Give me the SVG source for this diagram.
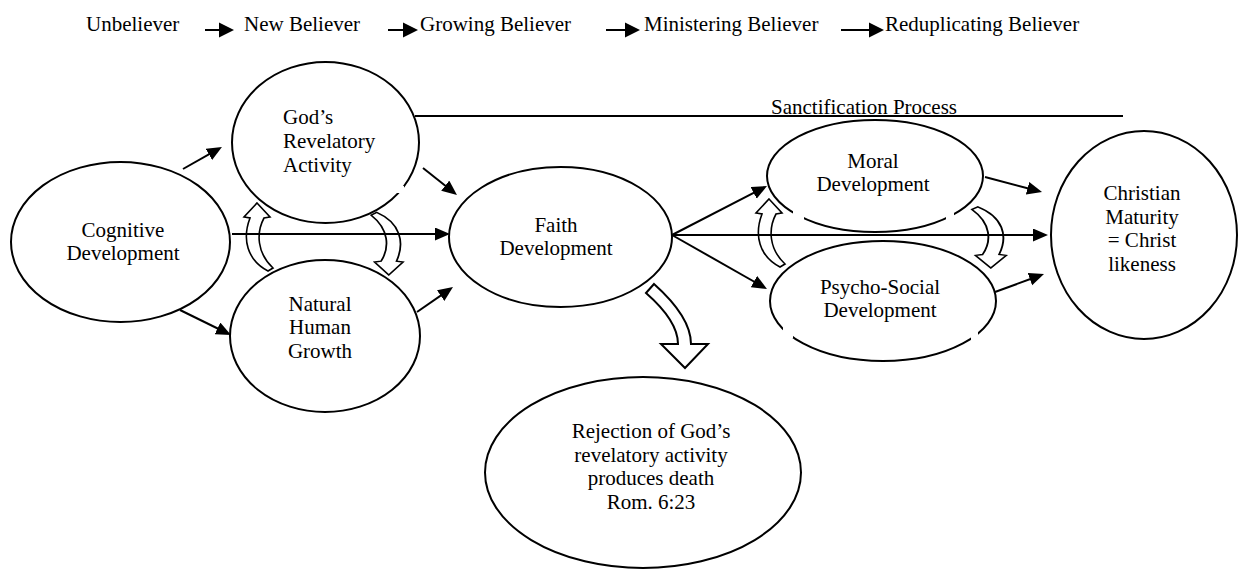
<svg xmlns="http://www.w3.org/2000/svg" width="1238" height="569" viewBox="0 0 1238 569">
<style>
text{font-family:"Liberation Serif","Times New Roman",serif;font-size:21px;fill:#000}
.m{text-anchor:middle}
.node ellipse{fill:#fff;stroke:#000;stroke-width:2}
.conn line{stroke:#000;stroke-width:2;marker-end:url(#ah)}
.hdr line{stroke:#000;stroke-width:2}
.hdr polygon{fill:#000}
.curl{fill:#fff;stroke:#000;stroke-width:1.6;stroke-linejoin:miter}
.block{fill:#fff;stroke:#000;stroke-width:2;stroke-linejoin:miter}
.sline{stroke:#000;stroke-width:2}
</style>
<defs>
<marker id="ah" markerUnits="userSpaceOnUse" markerWidth="16" markerHeight="14" refX="7" refY="6.5" orient="auto">
<path d="M0,0 L15,6.5 L0,13 Z" fill="#000"/>
</marker>
<path id="curlA" d="M12,0 L25,14 L19,15 C11,30 12,50 28,65 L23,68 C2,57 -3,36 5,15 L-1,14 Z"/>
<mask id="mGod" maskUnits="userSpaceOnUse" x="0" y="0" width="1238" height="569"><rect width="1238" height="569" fill="#fff"/><rect x="397" y="186" width="7" height="7" fill="#000"/></mask>
<mask id="mMoral" maskUnits="userSpaceOnUse" x="0" y="0" width="1238" height="569"><rect width="1238" height="569" fill="#fff"/><rect x="793" y="205" width="11" height="18" fill="#000"/><rect x="946" y="207" width="8" height="18" fill="#000"/></mask>
<mask id="mPsy" maskUnits="userSpaceOnUse" x="0" y="0" width="1238" height="569"><rect width="1238" height="569" fill="#fff"/><rect x="783" y="322" width="10" height="16" fill="#000"/><rect x="971" y="328" width="7" height="16" fill="#000"/></mask>
</defs>

<g id="header" class="hdr">
<text x="86" y="31">Unbeliever</text>
<line x1="205" y1="30" x2="220" y2="30"/><polygon points="219,22.5 234,30 219,37.5"/>
<text x="244" y="31">New Believer</text>
<line x1="388" y1="30" x2="404" y2="30"/><polygon points="403,22.5 418,30 403,37.5"/>
<text x="420" y="31">Growing Believer</text>
<line x1="606" y1="30" x2="626" y2="30"/><polygon points="625,22.5 640,30 625,37.5"/>
<text x="644" y="31">Ministering Believer</text>
<line x1="841" y1="30" x2="870" y2="30"/><polygon points="869,22.5 884,30 869,37.5"/>
<text x="885" y="31">Reduplicating Believer</text>
</g>

<g id="sanctification">
<line class="sline" x1="415" y1="116" x2="1123" y2="116"/>
<text x="771" y="114">Sanctification Process</text>
</g>

<g id="cognitive" class="node">
<ellipse cx="120.5" cy="242" rx="109.5" ry="80"/>
<text class="m" x="123" y="237">Cognitive</text>
<text class="m" x="123" y="260">Development</text>
</g>

<g id="gods-revelatory" class="node">
<ellipse cx="325.5" cy="142.5" rx="93.5" ry="80.5" mask="url(#mGod)"/>
<text x="283" y="124">God’s</text>
<text x="283" y="148">Revelatory</text>
<text x="283" y="172">Activity</text>
</g>

<g id="natural-growth" class="node">
<ellipse cx="325" cy="336" rx="95" ry="76"/>
<text class="m" x="320" y="311">Natural</text>
<text class="m" x="320" y="334">Human</text>
<text class="m" x="320" y="358">Growth</text>
</g>

<g id="faith" class="node">
<ellipse cx="560.5" cy="237" rx="111.5" ry="70"/>
<text class="m" x="556" y="232">Faith</text>
<text class="m" x="556" y="255">Development</text>
</g>

<g id="moral" class="node">
<ellipse cx="875" cy="176" rx="108" ry="56" mask="url(#mMoral)"/>
<text class="m" x="873" y="168">Moral</text>
<text class="m" x="873" y="191">Development</text>
</g>

<g id="psycho-social" class="node">
<ellipse cx="883" cy="301" rx="113" ry="60" mask="url(#mPsy)"/>
<text class="m" x="880" y="294">Psycho-Social</text>
<text class="m" x="880" y="317">Development</text>
</g>

<g id="christian-maturity" class="node">
<ellipse cx="1144" cy="235" rx="93" ry="104"/>
<text class="m" x="1142" y="200">Christian</text>
<text class="m" x="1142" y="223.5">Maturity</text>
<text class="m" x="1142" y="247">= Christ</text>
<text class="m" x="1142" y="270.5">likeness</text>
</g>

<g id="rejection" class="node">
<ellipse cx="643" cy="472.5" rx="158" ry="95.5"/>
<text class="m" x="651" y="438">Rejection of God’s</text>
<text class="m" x="651" y="462">revelatory activity</text>
<text class="m" x="651" y="485">produces death</text>
<text class="m" x="651" y="509">Rom. 6:23</text>
</g>

<g id="curved-arrows" class="curl">
<use href="#curlA" transform="translate(245,203)"/>
<use href="#curlA" transform="translate(402,275) rotate(180) scale(1.1,0.92)"/>
<use href="#curlA" transform="translate(757,199)"/>
<use href="#curlA" transform="translate(1005,268) rotate(180) scale(1.18,0.9)"/>
</g>

<g id="connectors" class="conn">
<line x1="183" y1="169" x2="215" y2="150.9"/>
<line x1="180" y1="310" x2="223.8" y2="331.5"/>
<line x1="232" y1="234" x2="442" y2="234"/>
<line x1="423" y1="168" x2="450.7" y2="190"/>
<line x1="417" y1="312" x2="446.4" y2="291.6"/>
<line x1="672" y1="235" x2="759.9" y2="189.7"/>
<line x1="672" y1="235" x2="1040" y2="235"/>
<line x1="672" y1="235" x2="760" y2="285"/>
<line x1="985" y1="177" x2="1034.3" y2="190"/>
<line x1="995" y1="292" x2="1036.5" y2="276.8"/>
<path class="block" d="M646,293 L654,284 Q691,317 691,344 L708,344 L685,368 L661,344 L678,344 Q678,321 646,293 Z"/>
</g>
</svg>
